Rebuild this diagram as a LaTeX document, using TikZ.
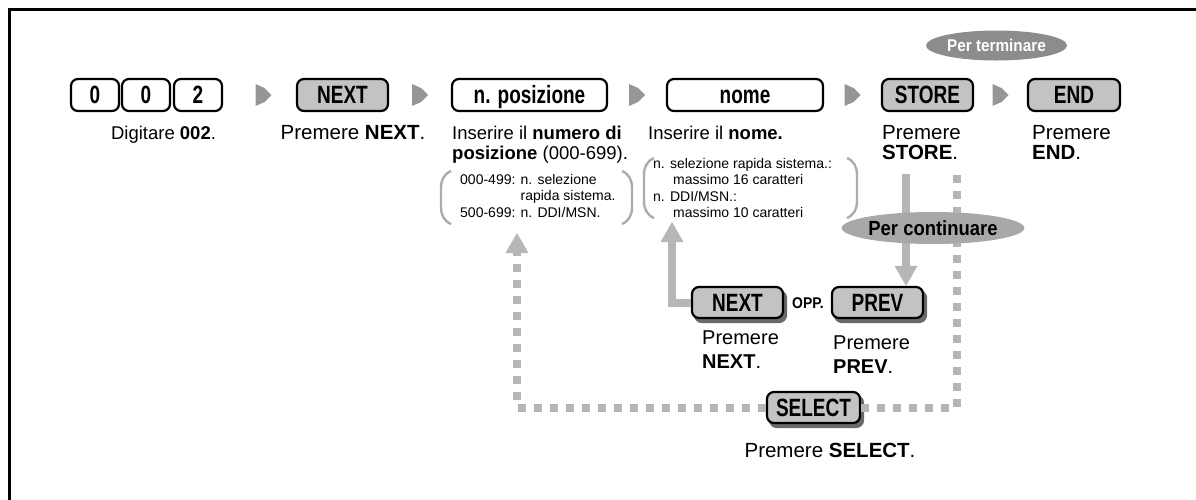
\documentclass[tikz,border=0pt]{standalone}
\usepackage{fontspec}
\setmainfont{Liberation Sans}
\newfontfamily\keyfont[FakeStretch=0.76]{Liberation Sans}
\newfontfamily\tagfont[FakeStretch=0.9]{Liberation Sans}
\usepackage{tikz}
\usetikzlibrary{shapes,arrows.meta,positioning,calc,shadows}
\definecolor{keyGray}{RGB}{195,195,195}
\definecolor{shadeGray}{RGB}{105,105,105}
\definecolor{chevGray}{RGB}{150,150,150}
\definecolor{flowGray}{RGB}{182,182,182}
\definecolor{braceGray}{RGB}{172,172,172}
\definecolor{endGray}{RGB}{140,140,140}
\definecolor{contGray}{RGB}{168,168,168}

\begin{document}
\begin{tikzpicture}[x=1pt, y=-1pt,
  every node/.style={font=\fontsize{18.5}{20.5}\selectfont, inner sep=0pt},
  key/.style={draw=black, line width=2.2pt, rounded corners=7pt, fill=keyGray,
    minimum width=91pt, minimum height=32pt, text height=17.5pt, text depth=0pt,
    font=\keyfont\bfseries\fontsize{25}{25}\selectfont},
  blankkey/.style={key, fill=white},
  shadowkey/.style={key, minimum height=31pt,
    copy shadow={shadow xshift=3pt, shadow yshift=-4pt, fill=shadeGray, draw=shadeGray}},
  info/.style={anchor=north west, align=left},
  press/.style={font=\fontsize{20.5}{20.5}\selectfont},
  note/.style={info, font=\fontsize{14}{16.5}\selectfont},
  brace/.style={draw=braceGray, line width=2.4pt},
  tagend/.style={ellipse, fill=endGray, text=white, minimum width=141pt, minimum height=30pt,
    font=\tagfont\bfseries\fontsize{17}{17}\selectfont},
  tagcont/.style={ellipse, fill=contGray, minimum width=153pt, minimum height=32pt,
    font=\tagfont\bfseries\fontsize{20.5}{20.5}\selectfont},
  flowline/.style={draw=flowGray, line width=8pt, -{Triangle[width=23pt,length=20pt,line width=0pt]}},
  flowdash/.style={flowline, dash pattern=on 8pt off 8pt},
  chev/.pic={\fill[chevGray] (-8,-11) -- (1,-7) -- (8,0) -- (1,7) -- (-8,11) -- cycle;}]
  \useasboundingbox (0,0) rectangle (1196,499);
  % Frame
  \draw[line width=2.8pt] (9.5,500) -- (9.5,9.5) -- (1197,9.5);
  % Key row
  \node[blankkey, minimum width=48pt] (d1) at (95,95) {0};
  \node[blankkey, minimum width=48pt] (d2) at (146,95) {0};
  \node[blankkey, minimum width=48pt] (d3) at (198,95) {2};
  \node[key] (next) at (342.5,95) {NEXT};
  \node[blankkey, minimum width=155pt] (pos) at (529.5,95) {n. posizione};
  \node[blankkey, minimum width=156pt] (nome) at (745,95) {nome};
  \node[key] (store) at (927.5,95) {STORE};
  \node[key, minimum width=92pt] (endk) at (1074,95) {END};
  \node[tagend] (perterm) at (996.5,45.5) {Per terminare};
  \pic at ($(d3.east)!.5!(next.west)+(4,0)$) {chev};
  \pic at ($(next.east)!.5!(pos.west)$) {chev};
  \pic at ($(pos.east)!.5!(nome.west)$) {chev};
  \pic at ($(nome.east)!.5!(store.west)$) {chev};
  \pic at ($(store.east)!.5!(endk.west)$) {chev};
  % Texts under the keys
  \node[anchor=base] (digitext) at (163.5,139) {Digitare \textbf{002}.};
  \node[anchor=base, press] (nexttext) at (353,139) {Premere \textbf{NEXT}.};
  \node[info] (postext) at (452,125.5) {Inserire il \textbf{numero di}\\\textbf{posizione} (000-699).};
  \node[info] (nometext) at (648,125.5) {Inserire il \textbf{nome.}};
  \node[info, press] (storetext) at (882,125) {Premere\\\textbf{STORE}.};
  \node[info, press] (endtext) at (1032,125) {Premere\\\textbf{END}.};
  \node[note] (posnote) at (460,173.8) {000-499: n. selezione\\\phantom{000-499: }rapida sistema.\\500-699: n. DDI/MSN.};
  \node[note] (nomenote) at (653,157.8) {n. selezione rapida sistema.:\\\hspace*{20pt}massimo 16 caratteri\\n. DDI/MSN.:\\\hspace*{20pt}massimo 10 caratteri};
  \draw[brace] (451,171) .. controls (444,174) and (441,180) .. (441,188) -- (441,207) .. controls (441,215) and (444,221) .. (451,224);
  \draw[brace] (622,171) .. controls (629,174) and (632,180) .. (632,188) -- (632,207) .. controls (632,215) and (629,221) .. (622,224);
  \draw[brace] (654,158) .. controls (647,161) and (644,167) .. (644,175) -- (644,201) .. controls (644,209) and (647,215) .. (654,218);
  \draw[brace] (847,158) .. controls (854,161) and (857,167) .. (857,175) -- (857,201) .. controls (857,209) and (854,215) .. (847,218);
  % Lower keys
  \node[shadowkey] (next2) at (737.5,302.5) {NEXT};
  \node[shadowkey] (prev) at (877.5,302.5) {PREV};
  \node[font=\tagfont\bfseries\fontsize{15.5}{15.5}\selectfont] (opp) at (808,303) {OPP.};
  \node[shadowkey, minimum width=93pt] (select) at (813.5,407.5) {SELECT};
  \node[info, font=\fontsize{20}{23.5}\selectfont] (next2text) at (702,331) {Premere\\\textbf{NEXT}.};
  \node[info, font=\fontsize{20}{23.5}\selectfont] (prevtext) at (833,336) {Premere\\\textbf{PREV}.};
  \node[anchor=base, press] (seltext) at (830,457) {Premere \textbf{SELECT}.};
  % Loops back
  \coordinate (posup) at (517,233);
  \coordinate (nomeup) at (672,222);
  \coordinate (storeline) at (906,174);
  \coordinate (storedash) at (957,173);
  \draw[flowdash] (select.west) -| (posup);
  \draw[flowdash, -] (select.east) -| (storedash);
  \draw[flowline] (next2.west) -| (nomeup);
  \draw[flowline] (storeline) -- (storeline |- prev.north);
  \node[tagcont] (percont) at (933,228) {Per continuare};
\end{tikzpicture}
\end{document}
